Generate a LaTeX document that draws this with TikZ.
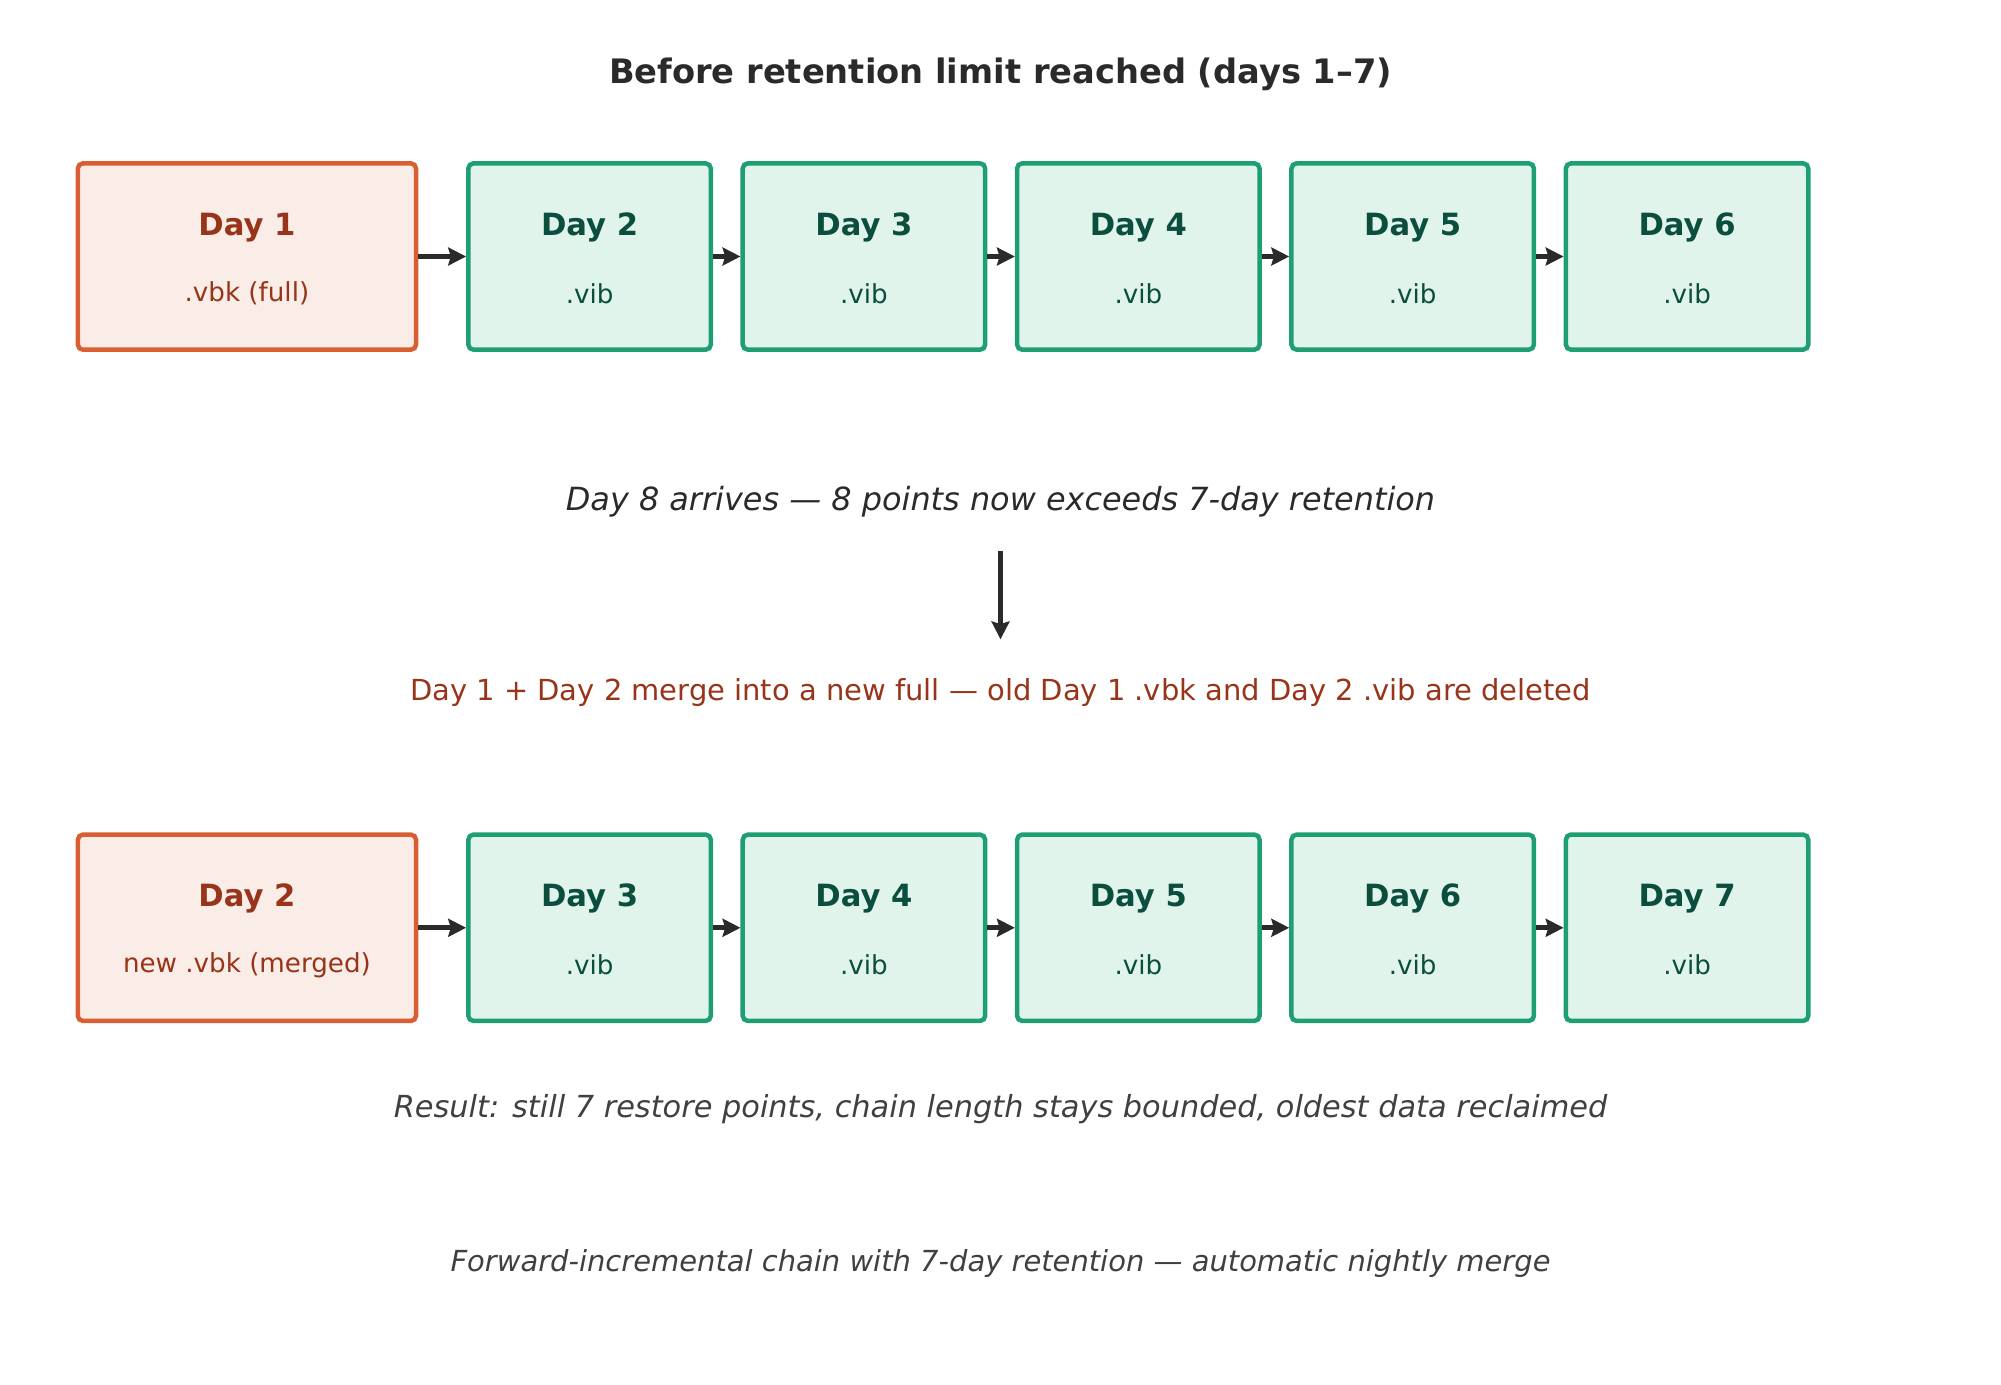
\documentclass[tikz,border=0pt]{standalone}
\usepackage{fontspec}
\setmainfont{DejaVu Sans}
\usetikzlibrary{arrows.meta}
\definecolor{ob}{HTML}{D95F33}\definecolor{of}{HTML}{FAECE6}\definecolor{ot}{HTML}{983419}
\definecolor{gb}{HTML}{1E9E73}\definecolor{gf}{HTML}{E1F4EC}\definecolor{gt}{HTML}{0B4E3D}
\definecolor{dk}{HTML}{2A2A2A}\definecolor{gy}{HTML}{404040}
\begin{document}
\begin{tikzpicture}[x=1pt,y=-1pt,
 full/.style={draw=ob,fill=of,line width=3.5pt,rounded corners=4pt,minimum width=265pt,minimum height=146pt},
 inc/.style={draw=gb,fill=gf,line width=3.5pt,rounded corners=4pt,minimum width=190pt,minimum height=146pt},
 arr/.style={draw=dk,line width=4pt,-{Stealth[length=14pt,width=14pt,inset=2pt]}},
 t/.style={font=\fontsize{24}{28}\selectfont\bfseries},
 s/.style={font=\fontsize{20.5}{24}\selectfont}]
\useasboundingbox (0,0) rectangle (1568,1085);
\node[font=\fontsize{26.4}{30}\selectfont\bfseries,text=dk] (title) at (784,58) {Before retention limit reached (days 1–7)};
% row 1
\node[full] (a1) at (193.5,201) {};
\foreach \n/\x in {2/462,3/677,4/892,5/1107,6/1322}{\node[inc] (a\n) at (\x,201) {};}
\node[t,text=ot] (a1t) at (193.5,178) {Day 1};
\node[s,text=ot] (a1s) at (193.5,230) {.vbk (full)};
\foreach \n/\x in {2/462,3/677,4/892,5/1107,6/1322}{
 \node[t,text=gt] (a\n t) at (\x,178) {Day \n};
 \node[s,text=gt] (a\n s) at (\x,230) {.vib};}
\foreach \a/\b in {1/2,2/3,3/4,4/5,5/6}{\draw[arr] (a\a.east) -- (a\b.west);}
% middle
\node[font=\fontsize{25}{29}\selectfont\itshape,text=dk] (m1) at (784,393) {Day 8 arrives — 8 points now exceeds 7-day retention};
\coordinate (d1) at (784,432); \coordinate (d2) at (784,501);
\draw[arr,line width=3.5pt] (d1) -- (d2);
\node[font=\fontsize{22.7}{27}\selectfont,text=ot] (m2) at (784,543) {Day 1 + Day 2 merge into a new full — old Day 1 .vbk and Day 2 .vib are deleted};
% row 2
\node[full] (b1) at (193.5,727) {};
\foreach \n/\x in {3/462,4/677,5/892,6/1107,7/1322}{\node[inc] (b\n) at (\x,727) {};}
\node[t,text=ot] (b1t) at (193.5,704) {Day 2};
\node[s,text=ot] (b1s) at (193.5,756) {new .vbk (merged)};
\foreach \n/\x in {3/462,4/677,5/892,6/1107,7/1322}{
 \node[t,text=gt] (b\n t) at (\x,704) {Day \n};
 \node[s,text=gt] (b\n s) at (\x,756) {.vib};}
\foreach \a/\b in {1/3,3/4,4/5,5/6,6/7}{\draw[arr] (b\a.east) -- (b\b.west);}
\node[font=\fontsize{23.8}{28}\selectfont\itshape,text=gy] (r) at (784,869) {Result: still 7 restore points, chain length stays bounded, oldest data reclaimed};
\node[font=\fontsize{22.7}{27}\selectfont\itshape,text=gy] (f) at (784,990) {Forward-incremental chain with 7-day retention — automatic nightly merge};
\end{tikzpicture}
\end{document}
